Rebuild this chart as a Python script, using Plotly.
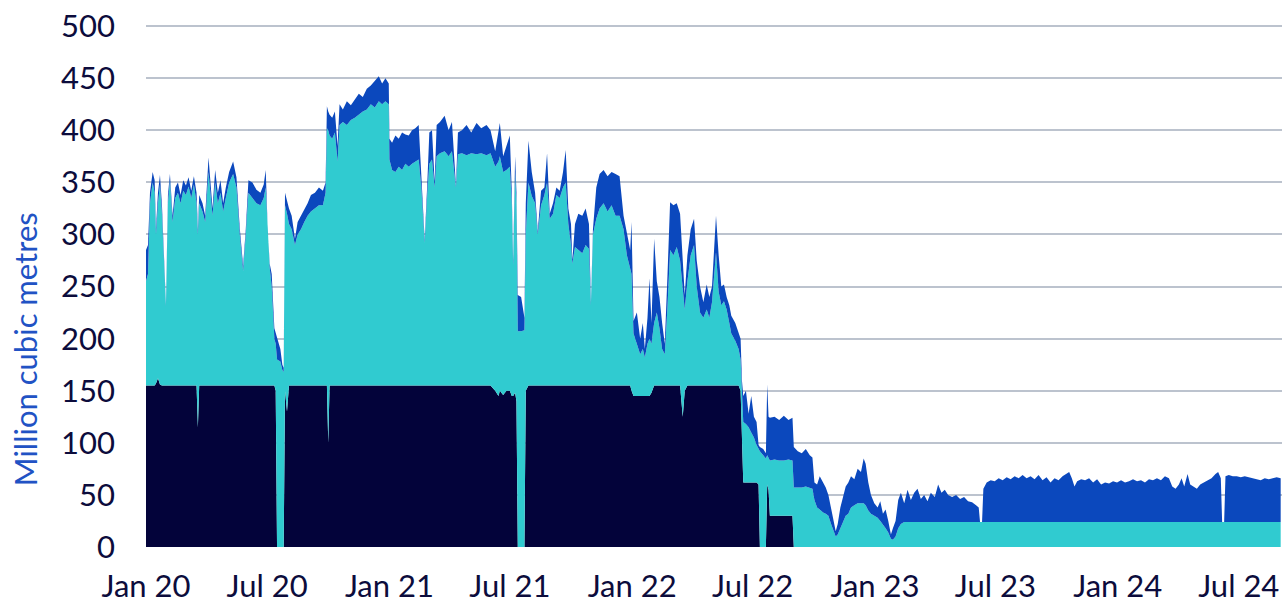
import plotly.graph_objects as go

# ---------------- data ----------------
dates_2020 = ["01-01","01-04","01-07","01-11","01-14","01-16","01-19","01-22","01-25","01-29",
              "01-31","02-03","02-06","02-10","02-14","02-18","02-22","02-26","03-01","03-05",
              "03-09","03-13","03-17","03-19","03-21","03-26","03-30","04-04","04-07","04-10",
              "04-14","04-18","04-22","04-26","04-30","05-05","05-11","05-16","05-21","05-26",
              "05-30","06-03","06-09","06-15","06-21","06-26","06-29","07-02","07-05","07-08",
              "07-12","07-14","07-16","07-21","07-24","07-26","07-28","07-31","08-03","08-07",
              "08-12","08-16","08-21","08-26","08-31","09-05","09-11","09-17","09-23","09-27",
              "09-29","10-01","10-03","10-07","10-11","10-15","10-18","10-23","10-29","11-04",
              "11-10","11-16","11-22","11-28","12-04","12-10","12-16","12-21","12-26","12-31"]
navy_2020 = [155,155,155,155,155,157,162,156,155,155,
             155,155,155,155,155,155,155,155,155,155,
             155,155,155,115,155,155,155,155,155,155,
             155,155,155,155,155,155,155,155,155,155,
             155,155,155,155,155,155,155,155,155,155,
             155,150,0,0,0,0,150,130,155,155,
             155,155,155,155,155,155,155,155,155,155,
             155,100,155,155,155,155,155,155,155,155,
             155,155,155,155,155,155,155,155,155,155]
teal_2020 = [100,107,175,195,185,143,168,192,165,105,
             76,175,197,157,180,185,175,187,183,191,
             180,193,175,185,175,167,157,205,180,163,
             195,175,185,167,180,195,203,190,145,110,
             145,185,180,175,173,180,190,145,113,95,
             45,45,180,178,170,168,178,190,155,150,
             135,145,150,157,163,167,170,173,173,185,
             247,300,240,237,243,215,250,253,250,255,
             257,260,263,265,270,267,273,270,273,270]
blue_2020 = [30,28,10,10,12,6,10,9,8,2,
             2,8,6,6,10,10,8,10,9,9,
             7,8,10,5,8,8,6,14,10,7,
             12,10,12,8,10,10,12,10,6,5,
             5,12,15,13,12,13,17,5,4,12,
             10,10,20,12,5,4,12,12,15,13,
             6,12,13,13,12,16,15,17,14,10,
             21,18,20,20,20,15,20,12,23,14,
             18,20,14,20,18,26,24,20,22,20]

dates_2021 = ["01-01","01-05","01-10","01-15","01-20","01-25","01-30","02-04","02-09","02-14",
              "02-18","02-23","02-27","03-02","03-06","03-10","03-13","03-18","03-25","03-31",
              "04-05","04-11","04-14","04-20","04-27","05-04","05-12","05-19","05-27","06-02",
              "06-09","06-14","06-16","06-21","06-26","07-01","07-04","07-06","07-09","07-11",
              "07-13","07-18","07-23","07-25","07-29","08-03","08-08","08-12","08-17","08-22",
              "08-26","08-30","09-04","09-09","09-14","09-19","09-23","09-27","10-01","10-03",
              "10-07","10-12","10-18","10-23","10-28","10-31","11-03","11-08","11-13","11-19",
              "11-25","12-01","12-07","12-13","12-19","12-24","12-29","12-31"]
navy_2021 = [155,155,155,155,155,155,155,155,155,155,
             155,155,155,155,155,155,155,155,155,155,
             155,155,155,155,155,155,155,155,155,155,
             150,145,150,146,150,150,145,145,148,140,
             0,0,0,150,155,155,155,155,155,155,
             155,155,155,155,155,155,155,155,155,155,
             155,155,155,155,155,155,155,155,155,155,
             155,155,155,155,155,155,155,150]
teal_2021 = [217,207,205,210,207,213,210,213,215,217,
             190,137,185,213,217,190,220,223,225,220,
             225,190,222,223,221,223,222,223,221,223,
             215,225,225,214,212,215,185,125,212,190,
             207,207,208,150,195,182,175,145,173,183,
             195,160,165,183,180,190,195,155,135,117,
             133,130,127,135,131,77,145,160,170,175,
             167,173,163,163,150,125,110,112]
blue_2021 = [20,26,35,27,36,28,30,32,32,33,
             15,3,10,30,28,5,30,30,34,25,
             28,2,21,22,29,20,30,24,29,22,
             15,28,32,15,23,30,10,5,15,10,
             35,33,12,30,40,23,10,3,14,7,
             28,5,10,7,7,15,31,15,20,3,
             22,35,36,35,24,3,5,30,33,32,
             34,32,40,38,13,20,20,50]

dates_2022 = ["01-03","01-08","01-13","01-17","01-20","01-24","01-27","01-30","02-03","02-07",
              "02-11","02-15","02-19","02-23","02-27","03-04","03-09","03-14","03-18","03-21",
              "03-25","03-30","04-04","04-08","04-13","04-18","04-23","04-27","05-01","05-05",
              "05-07","05-11","05-15","05-19","05-23","05-27","05-30","06-05","06-10","06-13",
              "06-15","06-17","06-21","06-25","06-29","07-03","07-07","07-10","07-12","07-17",
              "07-21","07-23","07-25","07-27","08-03","08-10","08-17","08-24","08-30","09-01",
              "09-07","09-13","09-19","09-25","09-29","10-02","10-06","10-10","10-15","10-19",
              "10-23","10-27","10-31","11-03","11-06","11-10","11-14","11-18","11-22","11-26",
              "12-01","12-06","12-11","12-15","12-18","12-22","12-26","12-31"]
navy_2022 = [145,145,145,145,145,145,145,148,155,155,
             155,155,155,155,155,155,155,155,125,150,
             155,155,155,155,155,155,155,155,155,155,
             155,155,155,155,155,155,155,155,155,150,
             110,62,62,62,62,62,62,60,0,0,
             0,60,55,30,30,30,30,30,30,0,
             0,0,0,0,0,0,0,0,0,0,
             0,0,0,0,0,0,0,0,0,0,
             0,0,0,0,0,0,0,0]
teal_2022 = [60,50,40,45,37,50,55,47,60,70,
             55,35,30,75,130,125,133,120,120,78,
             100,125,135,95,70,65,73,65,80,115,
             128,90,77,81,73,60,50,43,35,30,
             30,58,56,53,48,43,36,34,92,88,
             85,28,30,53,54,53,53,54,53,57,
             57,57,58,57,56,45,38,36,33,32,
             30,22,15,10,12,18,25,30,32,38,
             40,42,42,42,40,35,32,30]
blue_2022 = [12,30,15,25,8,25,58,20,81,30,
             30,25,10,30,46,48,42,45,32,14,
             25,25,25,25,25,15,24,20,15,30,
             35,35,18,16,12,17,17,17,15,20,
             20,25,32,13,35,20,22,4,4,6,
             5,68,40,41,41,39,43,38,41,39,
             35,33,36,31,30,17,22,32,29,25,
             20,16,10,5,10,20,23,28,30,30,
             25,33,30,43,40,27,18,12]

dates_2023 = ["01-05","01-09","01-13","01-17","01-21","01-25","01-28","02-01","02-05","02-09",
              "02-14","02-19","02-24","03-01","03-06","03-11","03-16","03-21","03-26","04-01",
              "04-06","04-11","04-16","04-21","04-27","05-03","05-09","05-15","05-21","05-27",
              "06-02","06-06","06-08","06-11","06-13","06-18","06-24","06-30","07-06","07-12",
              "07-18","07-24","07-30","08-05","08-11","08-17","08-23","08-29","09-04","09-10",
              "09-16","09-22","09-28","10-04","10-10","10-16","10-20","10-24","10-28","11-01",
              "11-07","11-13","11-19","11-25","12-01","12-07","12-13","12-19","12-25","12-31"]
navy_2023 = [0,0,0,0,0,0,0,0,0,0,
             0,0,0,0,0,0,0,0,0,0,
             0,0,0,0,0,0,0,0,0,0,
             0,0,0,0,0,0,0,0,0,0,
             0,0,0,0,0,0,0,0,0,0,
             0,0,0,0,0,0,0,0,0,0,
             0,0,0,0,0,0,0,0,0,0]
teal_2023 = [28,25,22,18,14,8,7,10,18,22,
             24,24,24,24,24,24,24,24,24,24,
             24,24,24,24,24,24,24,24,24,24,
             24,24,24,24,24,24,24,24,24,24,
             24,24,24,24,24,24,24,24,24,24,
             24,24,24,24,24,24,24,24,24,24,
             24,24,24,24,24,24,24,24,24,24]
blue_2023 = [10,19,10,18,11,4,11,15,27,30,
             18,31,21,28,32,22,26,20,28,24,
             36,28,31,26,24,26,22,24,20,19,
             16,14,0,0,32,38,40,39,42,40,
             43,41,44,42,45,42,44,41,45,40,
             43,38,42,40,44,46,48,42,34,39,
             41,40,42,38,41,36,38,37,39,38]

dates_2024 = ["01-06","01-12","01-18","01-24","01-30","02-05","02-11","02-17","02-23","02-29",
              "03-06","03-12","03-18","03-23","03-28","04-02","04-06","04-10","04-15","04-19",
              "04-24","04-29","05-04","05-09","05-15","05-21","05-27","05-31","06-04","06-06",
              "06-09","06-11","06-16","06-22","06-28","07-04","07-10","07-16","07-22","07-28",
              "08-03","08-09","08-15","08-21","08-27","09-02"]
navy_2024 = [0,0,0,0,0,0,0,0,0,0,
             0,0,0,0,0,0,0,0,0,0,
             0,0,0,0,0,0,0,0,0,0,
             0,0,0,0,0,0,0,0,0,0,
             0,0,0,0,0,0]
teal_2024 = [24,24,24,24,24,24,24,24,24,24,
             24,24,24,24,24,24,24,24,24,24,
             24,24,24,24,24,24,24,24,24,24,
             24,24,24,24,24,24,24,24,24,24,
             24,24,24,24,24,24]
blue_2024 = [40,38,39,41,39,40,38,41,40,42,
             40,44,42,34,32,36,42,34,46,36,
             34,32,36,38,40,42,46,48,42,0,
             0,44,45,44,44,43,44,43,42,41,
             40,42,41,42,43,42]

tick_dates = ["2020-01-01","2020-07-01","2021-01-01","2021-07-01","2022-01-01",
              "2022-07-01","2023-01-01","2023-07-01","2024-01-01","2024-07-01"]
tick_labels = ["Jan 20","Jul 20","Jan 21","Jul 21","Jan 22",
               "Jul 22","Jan 23","Jul 23","Jan 24","Jul 24"]
y_ticks = [0, 50, 100, 150, 200, 250, 300, 350, 400, 450, 500]
y_title = "Million cubic metres"

# ---------------- assemble ----------------
years = [("2020", dates_2020, navy_2020, teal_2020, blue_2020),
         ("2021", dates_2021, navy_2021, teal_2021, blue_2021),
         ("2022", dates_2022, navy_2022, teal_2022, blue_2022),
         ("2023", dates_2023, navy_2023, teal_2023, blue_2023),
         ("2024", dates_2024, navy_2024, teal_2024, blue_2024)]
dates, navy, teal, blue = [], [], [], []
for yr, d, n, t, b in years:
    assert len(d) == len(n) == len(t) == len(b), (yr, len(d), len(n), len(t), len(b))
    dates += [f"{yr}-{md}" for md in d]
    navy += n
    teal += t
    blue += b

NAVY = "#03033a"
TEAL = "#30cbd0"
BLUE = "#0b48bd"
TEXT = "#0c0c3c"
GRID = "#bcc3ce"

fig = go.Figure()
for name, vals, col in [("Series 1", navy, NAVY), ("Series 2", teal, TEAL), ("Series 3", blue, BLUE)]:
    fig.add_trace(go.Scatter(x=dates, y=vals, name=name, mode="lines", stackgroup="one",
                             line=dict(width=0, color=col), fillcolor=col))

fig.update_layout(
    width=1288, height=613,
    margin=dict(l=146, r=6, t=20, b=66),
    paper_bgcolor="white", plot_bgcolor="white",
    showlegend=False,
    font=dict(family="Lato", size=31, color=TEXT),
)
fig.update_xaxes(range=["2020-01-01", "2024-09-04"], tickvals=tick_dates, ticktext=tick_labels,
                 showgrid=False, zeroline=False, showline=False, ticks="",
                 ticklabelstandoff=18, tickfont=dict(size=31, color=TEXT))
fig.update_yaxes(range=[0, 503], tickvals=y_ticks, showgrid=True, gridcolor=GRID, gridwidth=1.5,
                 zeroline=False, showline=False, ticks="", ticklabelstandoff=30,
                 tickfont=dict(size=31, color=TEXT))
fig.add_annotation(text=y_title, textangle=-90, xref="paper", yref="paper",
                   x=(25 - 146) / (1282 - 146), y=(547 - 348) / 527,
                   xanchor="center", yanchor="middle", showarrow=False,
                   font=dict(family="Lato", size=31, color="#2152c4"))

# remove the page's default 8px body margin so the figure fills the window exactly
fig.write_html("out.html", config={"displayModeBar": False},
               post_script="document.body.style.margin='0';document.body.style.overflow='hidden';")
